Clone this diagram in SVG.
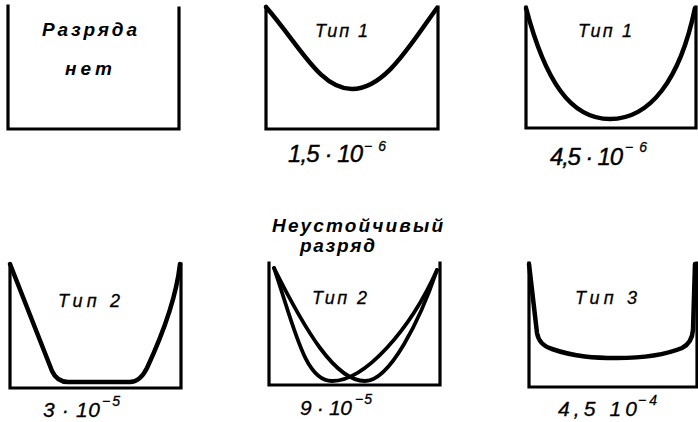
<svg xmlns="http://www.w3.org/2000/svg" width="698" height="422" viewBox="0 0 698 422">
<style>
.box{fill:none;stroke:#000;stroke-width:3.2;stroke-linejoin:miter;stroke-linecap:square}
.cv{fill:none;stroke:#000;stroke-width:4.5;stroke-linecap:round;stroke-linejoin:round}
.cv2{fill:none;stroke:#000;stroke-width:3.8;stroke-linecap:round;stroke-linejoin:round}
text{font-family:"Liberation Sans",Arial,sans-serif;font-style:italic;fill:#000}
.hd{font-weight:bold;font-size:19px}
.tp{font-size:18px;stroke:#000;stroke-width:0.3}
.nm{font-size:24px;stroke:#000;stroke-width:0.4}
.nms{font-size:21px;stroke:#000;stroke-width:0.3}
.sup{font-size:14px;stroke:#000;stroke-width:0.3}
</style>
<rect width="698" height="422" fill="#fff"/>
<g id="panel1">
<path class="box" d="M8,6 V129 H179 V8"/>
<text class="hd" x="42" y="36" textLength="95" lengthAdjust="spacing">Разряда</text>
<text class="hd" x="65" y="75" textLength="47" lengthAdjust="spacing">нет</text>
</g>
<g id="panel2">
<path class="box" d="M266,7 V129 H438 V7"/>
<path class="cv" d="M266,7 C300,46 320,89 352,89 C385,89 410,45 437,8"/>
<text class="tp" x="315" y="37" textLength="53" lengthAdjust="spacing">Тип 1</text>
<text class="nm" x="288" y="162" textLength="75" lengthAdjust="spacing">1,5 · 10</text>
<text class="sup" x="364" y="151" textLength="22" lengthAdjust="spacing">−6</text>
</g>
<g id="panel3">
<path class="box" d="M526,7 V128 H696 V7"/>
<path class="cv" d="M526,8 C545,80 570,119 610,119 C650,119 680,80 695,8"/>
<text class="tp" x="578" y="37" textLength="54" lengthAdjust="spacing">Тип 1</text>
<text class="nm" x="550" y="165" textLength="73" lengthAdjust="spacing">4,5 · 10</text>
<text class="sup" x="625" y="152" textLength="22" lengthAdjust="spacing">−6</text>
</g>
<g id="panel4">
<path class="box" d="M10,264 V388 H181 V264"/>
<path class="cv" d="M10,264 L52,371 Q57,382 68,382 L130,382 Q140,382 147,368 C160,340 176,300 180,264"/>
<text class="tp" x="58" y="307" textLength="62" lengthAdjust="spacing">Тип 2</text>
<text class="nms" x="43" y="417" textLength="57" lengthAdjust="spacing">3 · 10</text>
<text class="sup" x="102" y="406" textLength="18" lengthAdjust="spacing">−5</text>
</g>
<g id="panel5">
<text class="hd" x="272" y="232" textLength="171" lengthAdjust="spacing">Неустойчивый</text>
<text class="hd" x="300" y="252" textLength="75" lengthAdjust="spacing">разряд</text>
<path class="box" d="M269,263 V385 H440 V263"/>
<path class="cv2" d="M274,268 C295,330 305,381 332,381 C365,381 410,330 437,270"/>
<path class="cv2" d="M274,268 C305,330 335,381 365,381 C390,381 420,320 437,270"/>
<text class="tp" x="312" y="304" textLength="55" lengthAdjust="spacing">Тип 2</text>
<text class="nms" x="300" y="415" textLength="52" lengthAdjust="spacing">9 · 10</text>
<text class="sup" x="355" y="404" textLength="17" lengthAdjust="spacing">−5</text>
</g>
<g id="panel6">
<path class="box" d="M529,263 V387 H697 V263"/>
<path class="cv" d="M529,264 L537,333 Q539,345 552,349 C575,357 595,358 617,358 C645,358 665,355 682,348 Q692,343 693,330 L695,264"/>
<text class="tp" x="575" y="304" textLength="62" lengthAdjust="spacing">Тип 3</text>
<text class="nms" x="558" y="416" textLength="79" lengthAdjust="spacing">4,5  10</text>
<text class="sup" x="638" y="405" textLength="19" lengthAdjust="spacing">−4</text>
</g>
</svg>
